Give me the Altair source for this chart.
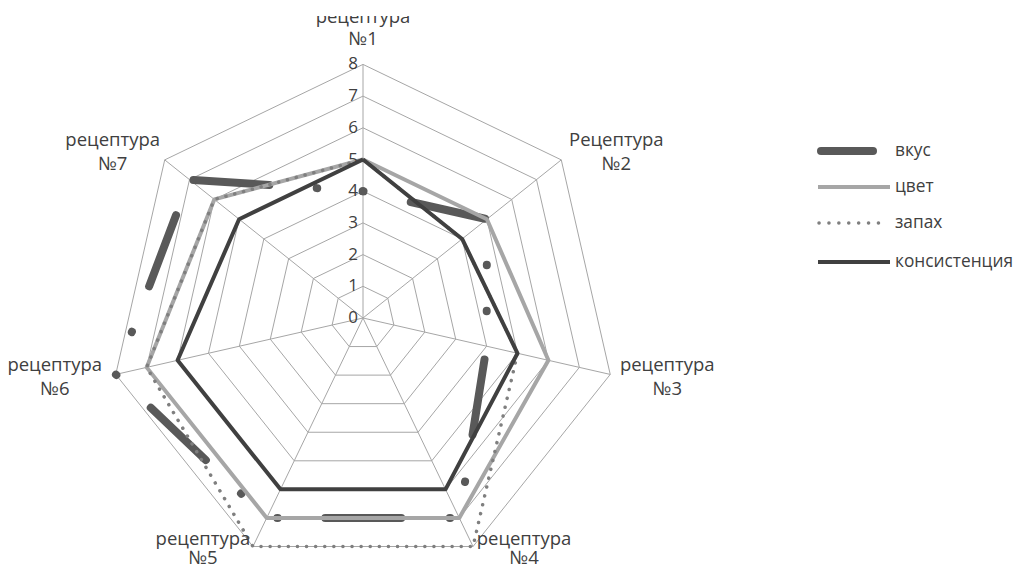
import math
import altair as alt
import pandas as pd

# ---------------- data ----------------
recipes = ["рецептура\n№1", "Рецептура\n№2", "рецептура\n№3", "рецептура\n№4",
           "рецептура\n№5", "рецептура\n№6", "рецептура\n№7"]
series_names = ["вкус", "цвет", "запах", "консистенция"]
vkus = [4, 5, 4, 7, 7, 8, 7]
cvet = [5, 5, 6, 7, 7, 7, 6]
zapah = [5, 4, 5, 8, 8, 7, 6]
konsist = [5, 4, 5, 6, 6, 6, 5]
levels = [0, 1, 2, 3, 4, 5, 6, 7, 8]

# ---------------- layout ----------------
N = len(recipes)
RMAX = 8
CHART_W, CHART_H = 1005, 558
PAD_TOP = 8
PLOT_W, PLOT_H = CHART_W, CHART_H - PAD_TOP
CX, CY = 355, 302          # centre of the radar in plot pixels
UNIT = 31.7                # pixels per value unit
XMIN, XMAX = -CX / UNIT, (PLOT_W - CX) / UNIT
YMIN, YMAX = -(PLOT_H - CY) / UNIT, CY / UNIT
# first-line offsets (pixels) of each category label from its outer vertex
label_off = [(0, -47), (55, -20), (57, -9), (51, -7), (-50, -7), (-61, -9), (-52, -20)]
label_grp = ["top", "side", "side", "bottom", "bottom", "side", "side"]

FONT = "Open Sans"
TXT = "#404040"
GRID = "#a6a6a6"
VKUS_DASH = [76, 47.5, 0.5, 45.5, 0.5, 48.5]

values = {"вкус": vkus, "цвет": cvet, "запах": zapah, "консистенция": konsist}
rows = []
for s in series_names:
    vals = values[s]
    for k in range(N + 1):
        rows.append({"s": s, "k": k, "v": vals[k % N]})
series_df = pd.DataFrame(rows)

ring_df = pd.DataFrame([{"lev": lv, "k": k} for lv in levels[1:] for k in range(N + 1)])
spoke_df = pd.DataFrame({"k": list(range(N))})
tick_df = pd.DataFrame({"lev": levels, "t": [str(l) for l in levels]})
lab_rows = []
for k, name in enumerate(recipes):
    th = 2 * math.pi * k / N
    dx, dy = label_off[k]
    lab_rows.append({"t": name, "g": label_grp[k],
                     "lx": RMAX * math.sin(th) + dx / UNIT,
                     "ly": RMAX * math.cos(th) - dy / UNIT})
lab_df = pd.DataFrame(lab_rows)

xs = alt.Scale(domain=[XMIN, XMAX], nice=False, zero=False)
ys = alt.Scale(domain=[YMIN, YMAX], nice=False, zero=False)
TH = f"datum.k * 2 * PI / {N}"

def X(f):
    return alt.X(f, type="quantitative", scale=xs, axis=None)

def Y(f):
    return alt.Y(f, type="quantitative", scale=ys, axis=None)

rings = alt.Chart(ring_df).transform_calculate(
    x=f"datum.lev * sin({TH})", y=f"datum.lev * cos({TH})"
).mark_line(color=GRID, strokeWidth=1).encode(
    x=X("x"), y=Y("y"), detail="lev:N", order="k:Q")

spokes = alt.Chart(spoke_df).transform_calculate(
    x0="0", y0="0", x=f"{RMAX} * sin({TH})", y=f"{RMAX} * cos({TH})"
).mark_rule(color=GRID, strokeWidth=1).encode(
    x=X("x0"), y=Y("y0"), x2="x:Q", y2="y:Q")

ticks = alt.Chart(tick_df).transform_calculate(x0="0").mark_text(
    align="right", baseline="middle", dx=-5, font=FONT, fontSize=17, color=TXT
).encode(x=X("x0"), y=Y("lev"), text="t:N")

def label_layer(grp, lh, clip=False):
    return alt.Chart(lab_df).transform_filter(alt.datum.g == grp).mark_text(
        align="center", baseline="middle", lineBreak="\n", lineHeight=lh,
        font=FONT, fontSize=18.5, color=TXT, clip=clip
    ).encode(x=X("lx"), y=Y("ly"), text="t:N")

labels = [label_layer("top", 22, clip=True), label_layer("side", 24),
          label_layer("bottom", 19)]

base = alt.Chart(series_df).transform_calculate(
    x=f"datum.v * sin({TH})", y=f"datum.v * cos({TH})")

def series_layer(name, cond=None, **mk):
    c = base.transform_filter(alt.datum.s == name)
    if cond is not None:
        c = c.transform_filter(cond)
    return c.mark_line(**mk).encode(x=X("x"), y=Y("y"), order="k:Q")

l_vkus_main = series_layer("вкус", alt.datum.k <= N - 1, color="#595959", strokeWidth=8,
                           strokeCap="round", strokeJoin="round",
                           strokeDash=VKUS_DASH, strokeDashOffset=169.5)
l_vkus_close = series_layer("вкус", alt.datum.k >= N - 1, color="#595959", strokeWidth=8,
                            strokeCap="round", strokeJoin="round",
                            strokeDash=VKUS_DASH, strokeDashOffset=-4)
l_cvet = series_layer("цвет", color="#a6a6a6", strokeWidth=4, strokeJoin="round")
l_zap = series_layer("запах", color="#7f7f7f", strokeWidth=3.5, strokeCap="round",
                     strokeDash=[0.1, 9])
l_kon = series_layer("консистенция", color="#404040", strokeWidth=4, strokeJoin="round")

# ---------------- legend ----------------
one = pd.DataFrame({"a": [0]})
leg_y = [135, 171, 207, 246]
leg_specs = [
    dict(color="#595959", strokeWidth=8, strokeCap="round", x1=813, x2=865),
    dict(color="#a6a6a6", strokeWidth=4, strokeCap="butt", x1=810, x2=882),
    dict(color="#7f7f7f", strokeWidth=3.5, strokeCap="round", strokeDash=[0.1, 9.8], x1=811, x2=876),
    dict(color="#404040", strokeWidth=4, strokeCap="butt", x1=810, x2=882),
]
leg_layers = []
for name, yy, sp in zip(series_names, leg_y, leg_specs):
    sp = dict(sp)
    x1, x2 = sp.pop("x1"), sp.pop("x2")
    leg_layers.append(alt.Chart(one).mark_rule(**sp).encode(
        x=alt.value(x1), x2=alt.value(x2), y=alt.value(yy)))
    leg_layers.append(alt.Chart(one).mark_text(
        align="left", baseline="middle", font=FONT, fontSize=17.3, color=TXT
    ).encode(x=alt.value(887), y=alt.value(yy), text=alt.value(name)))

chart = alt.layer(rings, spokes, l_vkus_main, l_vkus_close, l_cvet, l_zap, l_kon,
                  ticks, *labels, *leg_layers).properties(
    width=PLOT_W, height=PLOT_H,
    padding={"left": 0, "top": PAD_TOP, "right": 0, "bottom": 0},
    autosize=alt.AutoSizeParams(type="none"),
    background="white",
).configure_view(stroke=None)

chart.save("out.html", embed_options={"renderer": "svg", "actions": False})
